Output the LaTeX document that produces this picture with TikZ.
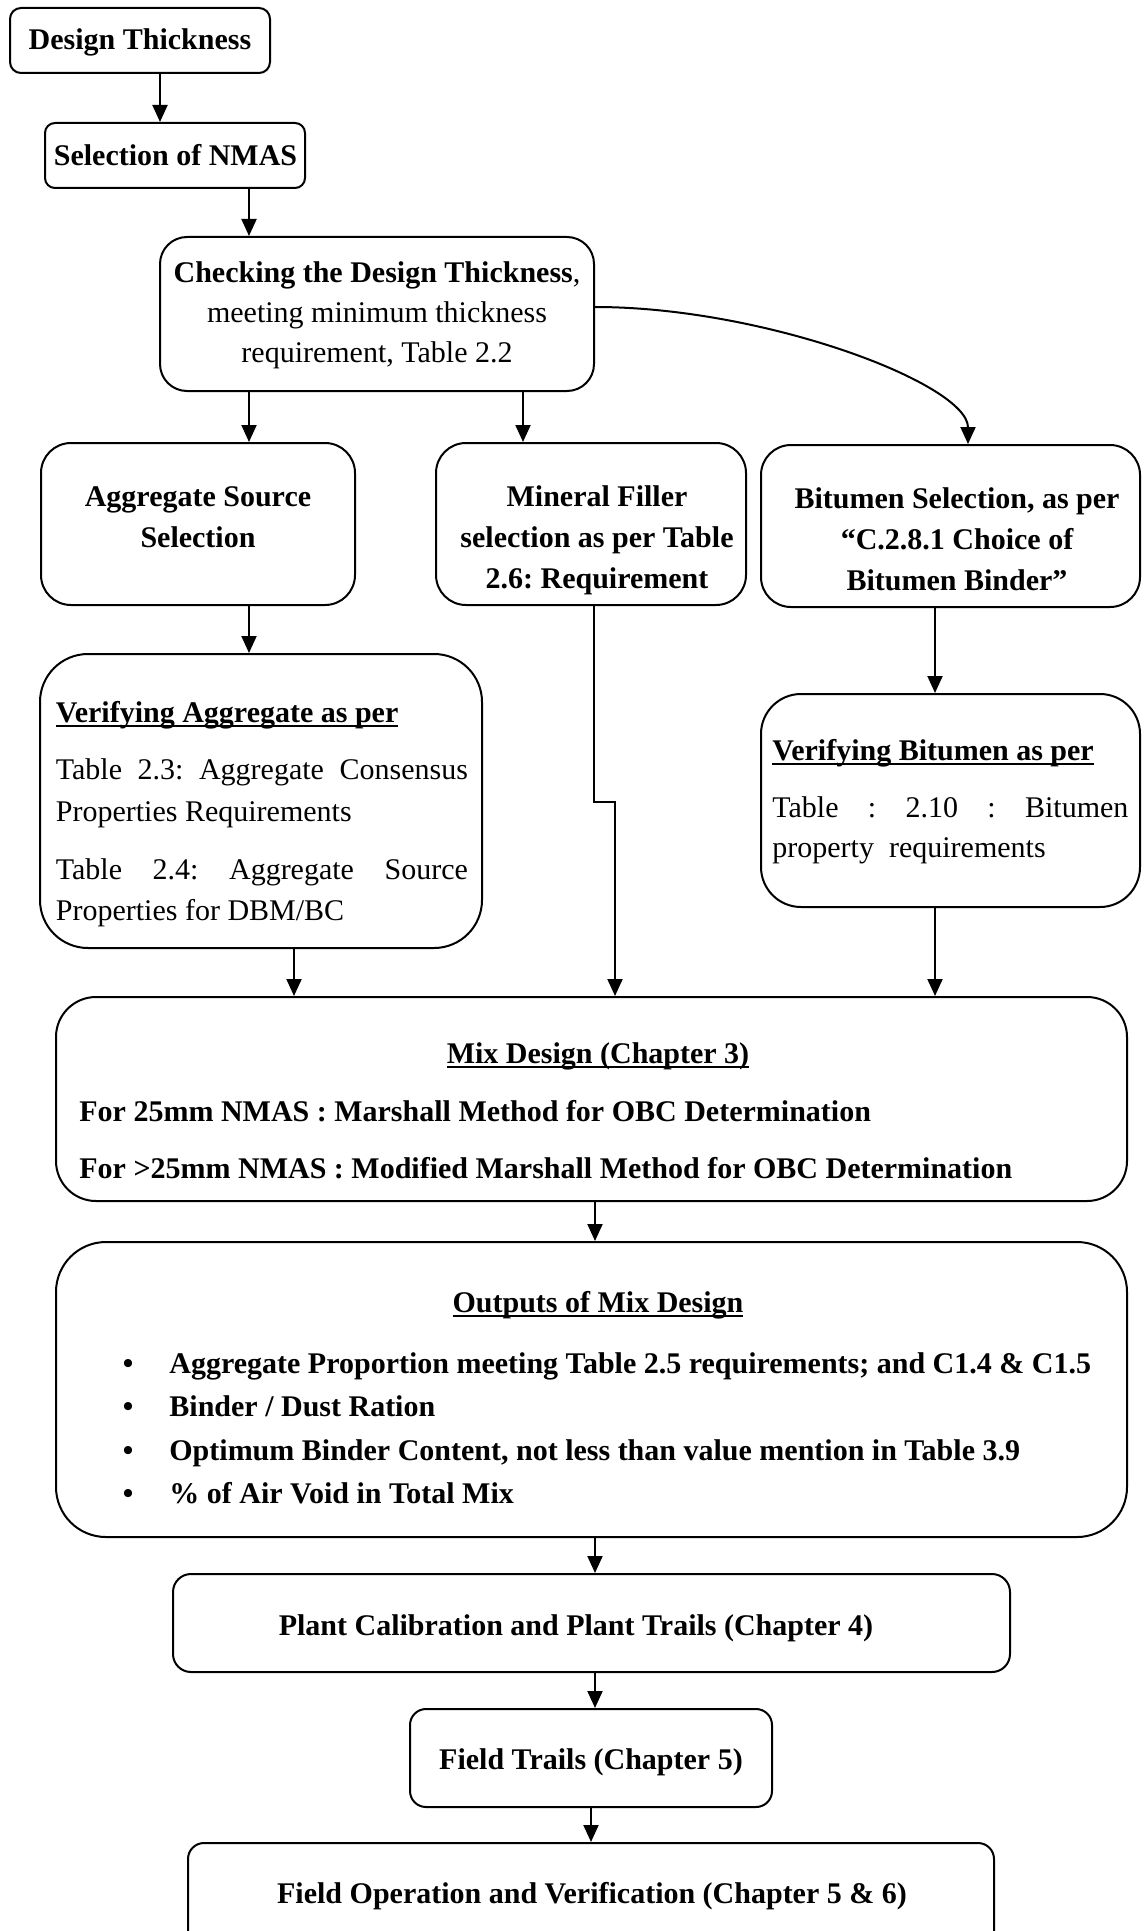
\documentclass[tikz,border=0pt]{standalone}
\usepackage{fontspec}
\setmainfont{Liberation Serif}
\usetikzlibrary{arrows.meta}
\frenchspacing
\newsavebox{\ulxbox}
\newcommand{\ulx}[1]{\sbox{\ulxbox}{#1}\rlap{\rule[-2.4pt]{\wd\ulxbox}{1pt}}\usebox{\ulxbox}}
\begin{document}
\begin{tikzpicture}[x=0.5pt,y=-0.5pt,
  box/.style={draw, line width=1pt, rounded corners=#1, inner sep=0pt},
  txt/.style={inner sep=0pt, font=\fontsize{15pt}{18pt}\selectfont\frenchspacing},
  bt/.style={inner sep=0pt, font=\fontsize{15pt}{18pt}\selectfont\bfseries\frenchspacing},
  arr/.style={line width=1pt, -{Triangle[width=7.5pt,length=8.5pt]}}
]
\clip (0,0) rectangle (1144,1931);
\fill[white] (0,0) rectangle (1144,1931);

% boxes
\node[box=5.5pt, minimum width=130pt, minimum height=32.5pt] (b1) at (140,40.5) {};
\node[box=5pt, minimum width=130pt, minimum height=32.5pt] (b2) at (175,155.5) {};
\node[box=13.5pt, minimum width=217pt, minimum height=77pt] (b3) at (377,314) {};
\node[box=15pt, minimum width=157pt, minimum height=81pt] (agg) at (198,524) {};
\node[box=15pt, minimum width=155pt, minimum height=81pt] (min) at (591,524) {};
\node[box=15pt, minimum width=189.5pt, minimum height=81pt] (bsel) at (950.5,526) {};
\node[box=24pt, minimum width=221pt, minimum height=147pt] (vagg) at (261,801) {};
\node[box=20pt, minimum width=189.5pt, minimum height=106.5pt] (vbit) at (950.5,800.5) {};
\node[box=20pt, minimum width=535.5pt, minimum height=102pt] (mix) at (591.5,1099) {};
\node[box=25pt, minimum width=535.5pt, minimum height=147.5pt] (outp) at (591.5,1389.5) {};
\node[box=9pt, minimum width=418.5pt, minimum height=49pt] (plant) at (591.5,1623) {};
\node[box=8pt, minimum width=181pt, minimum height=49pt] (ftr) at (591,1758) {};
\node[box=8pt, minimum width=403pt, minimum height=55pt] (fop) at (591,1898) {};

% texts
\node[bt, anchor=base] (t1) at (140,50) {Design Thickness};
\node[bt, anchor=base] (t2) at (175.5,166) {Selection of NMAS};
\node[txt, anchor=base] (t3a) at (377,283) {\textbf{Checking the Design Thickness},};
\node[txt, anchor=base] (t3b) at (377,323) {meeting minimum thickness};
\node[txt, anchor=base] (t3c) at (377,363) {requirement, Table 2.2};
\node[bt, anchor=base] (t4a) at (198,506) {Aggregate Source};
\node[bt, anchor=base] (t4b) at (198,547) {Selection};
\node[bt, anchor=base] (t5a) at (597,506) {Mineral Filler};
\node[bt, anchor=base] (t5b) at (597,547) {selection as per Table};
\node[bt, anchor=base] (t5c) at (597,588) {2.6: Requirement};
\node[bt, anchor=base] (t6a) at (957,508) {Bitumen Selection, as per};
\node[bt, anchor=base] (t6b) at (957,549) {“C.2.8.1 Choice of};
\node[bt, anchor=base] (t6c) at (957,590) {Bitumen Binder”};
\node[bt, anchor=base west] (t7a) at (55.5,722) {\ulx{Verifying Aggregate as per}};
\node[txt, anchor=base west] (t7b) at (55.5,779) {\makebox[206pt][s]{Table 2.3: Aggregate Consensus}};
\node[txt, anchor=base west] (t7c) at (55.5,821) {Properties Requirements};
\node[txt, anchor=base west] (t7d) at (55.5,879) {\makebox[206pt][s]{Table 2.4: Aggregate Source}};
\node[txt, anchor=base west] (t7e) at (55.5,920) {Properties for DBM/BC};
\node[bt, anchor=base west] (t8a) at (772,760) {\ulx{Verifying Bitumen as per}};
\node[txt, anchor=base west] (t8b) at (772,817) {\makebox[178pt][s]{Table : 2.10 : Bitumen}};
\node[txt, anchor=base west] (t8c) at (772,857) {property\ \ requirements};
\node[bt, anchor=base] (t9a) at (598,1063) {\ulx{Mix Design (Chapter 3)}};
\node[bt, anchor=base west] (t9b) at (79,1121) {For 25mm NMAS : Marshall Method for OBC Determination};
\node[bt, anchor=base west] (t9c) at (79,1178) {For >25mm NMAS : Modified Marshall Method for OBC Determination};
\node[bt, anchor=base] (t10a) at (598,1312) {\ulx{Outputs of Mix Design}};
\node[bt, anchor=base] (u1) at (128,1373) {\textbullet};
\node[bt, anchor=base] (u2) at (128,1416) {\textbullet};
\node[bt, anchor=base] (u3) at (128,1460) {\textbullet};
\node[bt, anchor=base] (u4) at (128,1503) {\textbullet};
\node[bt, anchor=base west] (t10b) at (169,1373) {Aggregate Proportion meeting Table 2.5 requirements; and C1.4 \& C1.5};
\node[bt, anchor=base west] (t10c) at (169,1416) {Binder / Dust Ration};
\node[bt, anchor=base west] (t10d) at (169,1460) {Optimum Binder Content, not less than value mention in Table 3.9};
\node[bt, anchor=base west] (t10e) at (169,1503) {\% of Air Void in Total Mix};
\node[bt, anchor=base] (t11) at (576,1635) {Plant Calibration and Plant Trails (Chapter 4)};
\node[bt, anchor=base] (t12) at (591,1769) {Field Trails (Chapter 5)};
\node[bt, anchor=base] (t13) at (592,1903) {Field Operation and Verification (Chapter 5 \& 6)};

% connector columns
\coordinate (k160) at (160,0);
\coordinate (k249) at (249,0);
\coordinate (k523) at (523,0);
\coordinate (k968) at (968,0);
\coordinate (k935) at (935,0);
\coordinate (k294) at (294,0);
\coordinate (k595) at (595,0);
\coordinate (k591) at (591,0);
\coordinate (m1) at (593.5,802);
\coordinate (m2) at (615,802);

% connectors
\draw[arr] (b1.south -| k160) -- (b2.north -| k160);
\draw[arr] (b2.south -| k249) -- (b3.north -| k249);
\draw[arr] (b3.south -| k249) -- (agg.north -| k249);
\draw[arr] (b3.south -| k523) -- (min.north -| k523);
\draw[arr] ([yshift=3.5pt]b3.east) .. controls +(170,0) and +(0,-60) .. (bsel.north -| k968);
\draw[arr] (agg.south -| k249) -- (vagg.north -| k249);
\draw[arr] (bsel.south -| k935) -- (vbit.north -| k935);
\draw[arr] (vagg.south -| k294) -- (mix.north -| k294);
\draw[arr] (min.south -| m1) -- (m1) -- (m2) -- (mix.north -| m2);
\draw[arr] (vbit.south -| k935) -- (mix.north -| k935);
\draw[arr] (mix.south -| k595) -- (outp.north -| k595);
\draw[arr] (outp.south -| k595) -- (plant.north -| k595);
\draw[arr] (plant.south -| k595) -- (ftr.north -| k595);
\draw[arr] (ftr.south -| k591) -- (fop.north -| k591);
\end{tikzpicture}
\end{document}
